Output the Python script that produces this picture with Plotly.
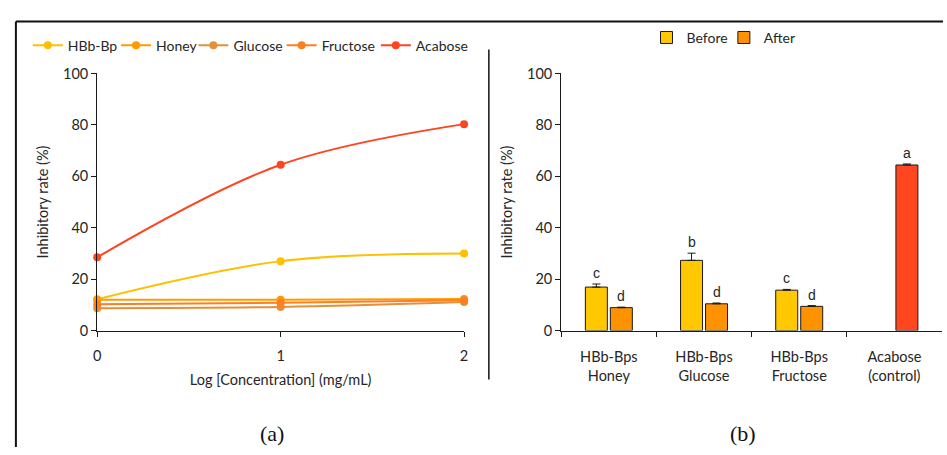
import plotly.graph_objects as go

# ---- Data: panel (a) ----
log_conc = [0, 1, 2]
series_names = ["HBb-Bp", "Honey", "Glucose", "Fructose", "Acabose"]
hbb_bp = [12.2, 27.0, 30.0]
honey = [12.0, 12.0, 12.3]
glucose = [8.7, 9.2, 11.1]
fructose = [10.2, 10.8, 11.8]
acabose = [28.5, 64.5, 80.3]
line_colors = ["#FFC000", "#FF9A00", "#E3903A", "#FF7E1E", "#FF4422"]

# ---- Data: panel (b) ----
categories = ["HBb-Bps<br>Honey", "HBb-Bps<br>Glucose", "HBb-Bps<br>Fructose", "Acabose<br>(control)"]
before_vals = [16.9, 27.3, 15.7, None]
before_err = [1.2, 2.8, 0.3, 0]
after_vals = [8.9, 10.4, 9.4, 64.4]
after_err = [0.2, 0.3, 0.3, 0.4]
before_letters = ["c", "b", "c", ""]
after_letters = ["d", "d", "d", "a"]
before_color = "#FFC800"
after_colors = ["#FF9200", "#FF9200", "#FF9200", "#FF461E"]

W, H = 947, 455
def px(x):
    return x / W
def py(y):
    return 1 - y / H

font_main = "Lato, 'Open Sans', sans-serif"
txt = "#262626"

# legend box left positions (px), one legend per item
legend_x = [24, 113, 191, 280, 375]
bar_legend_x = [648, 726]

fig = go.Figure()

legend_layout = {}
for i, (name, vals, col) in enumerate(zip(series_names, [hbb_bp, honey, glucose, fructose, acabose], line_colors)):
    lname = "legend" if i == 0 else f"legend{i + 1}"
    fig.add_trace(go.Scatter(
        x=log_conc, y=vals, name=name, mode="lines+markers",
        line=dict(color=col, width=2, shape="spline", smoothing=1.0),
        marker=dict(color=col, size=8),
        xaxis="x", yaxis="y", legend=lname, cliponaxis=False,
    ))
    legend_layout[lname] = dict(orientation="h", x=px(legend_x[i]), y=py(38),
                                xanchor="left", yanchor="middle",
                                font=dict(family=font_main, size=14, color=txt),
                                bgcolor="rgba(0,0,0,0)")

fig.add_trace(go.Bar(
    x=categories, y=before_vals, name="Before",
    marker=dict(color=before_color, line=dict(color="#1a1a1a", width=1)),
    error_y=dict(type="data", array=before_err, symmetric=False, arrayminus=[0]*4,
                 color="#1a1a1a", thickness=1, width=4),
    xaxis="x2", yaxis="y2", legend="legend6",
))
fig.add_trace(go.Bar(
    x=categories, y=after_vals, name="After",
    marker=dict(color=after_colors, line=dict(color="#1a1a1a", width=1)),
    error_y=dict(type="data", array=after_err, symmetric=False, arrayminus=[0]*4,
                 color="#1a1a1a", thickness=1, width=4),
    xaxis="x2", yaxis="y2", legend="legend7",
))
for j, lname in enumerate(["legend6", "legend7"]):
    legend_layout[lname] = dict(orientation="h", x=px(bar_legend_x[j]), y=py(30),
                                xanchor="left", yanchor="middle",
                                font=dict(family=font_main, size=14, color=txt),
                                bgcolor="rgba(0,0,0,0)")

annotations = []
for i, cat in enumerate(categories):
    if before_vals[i] is not None and before_letters[i]:
        annotations.append(dict(x=cat, y=before_vals[i] + before_err[i], xref="x2", yref="y2",
                                text=before_letters[i], showarrow=False, xshift=-12.5,
                                yanchor="bottom", yshift=1,
                                font=dict(family="Liberation Sans, Arial", size=14, color=txt)))
    if after_letters[i]:
        annotations.append(dict(x=cat, y=after_vals[i] + after_err[i], xref="x2", yref="y2",
                                text=after_letters[i], showarrow=False, xshift=12.5,
                                yanchor="bottom", yshift=1,
                                font=dict(family="Liberation Sans, Arial", size=14, color=txt)))

for lab, xc in [("(a)", 270), ("(b)", 745)]:
    annotations.append(dict(x=px(xc), y=py(441), xref="paper", yref="paper", text=lab,
                            xanchor="center", yanchor="middle", showarrow=False,
                            font=dict(family="Liberation Serif, serif", size=22, color="#111")))

shapes = [
    dict(type="line", xref="paper", yref="paper", x0=px(12), x1=px(947), y0=py(13), y1=py(13),
         line=dict(color="#111", width=2)),
    dict(type="line", xref="paper", yref="paper", x0=px(12), x1=px(12), y0=py(13), y1=py(455),
         line=dict(color="#111", width=2)),
    dict(type="line", xref="paper", yref="paper", x0=px(489), x1=px(489), y0=py(42), y1=py(385),
         line=dict(color="#111", width=1.5)),
]

ydom = [py(334), py(67)]
axis_common = dict(showline=True, linecolor="#1a1a1a", linewidth=1.2, showgrid=False, zeroline=False,
                   ticks="outside", ticklen=5, tickcolor="#1a1a1a",
                   tickfont=dict(family=font_main, size=14.5, color=txt))

fig.update_layout(
    width=W, height=H, margin=dict(l=0, r=0, t=0, b=0),
    paper_bgcolor="white", plot_bgcolor="white",
    font=dict(family=font_main, color=txt),
    xaxis=dict(domain=[px(94), px(464)], range=[0, 2], dtick=1, anchor="y", ticklabelstandoff=7,
               title=dict(text="Log [Concentration] (mg/mL)", font=dict(size=14.5), standoff=11),
               **axis_common),
    yaxis=dict(domain=ydom, range=[0, 100], dtick=20, anchor="x",
               title=dict(text="Inhibitory rate (%)", font=dict(size=14.5), standoff=10),
               **axis_common),
    xaxis2=dict(domain=[px(562), px(946)], anchor="y2", tickson="boundaries", ticklabelstandoff=13,
                **axis_common),
    yaxis2=dict(domain=ydom, range=[0, 100], dtick=20, anchor="x2",
                title=dict(text="Inhibitory rate (%)", font=dict(size=14.5), standoff=10),
                **axis_common),
    barmode="group", bargap=0.475, bargroupgap=0.12,
    annotations=annotations, shapes=shapes, showlegend=True,
    **legend_layout,
)

fig.write_html("out.html",
               post_script="document.body.style.margin='0';document.body.style.padding='0';"
                           "document.body.style.overflow='hidden';")
